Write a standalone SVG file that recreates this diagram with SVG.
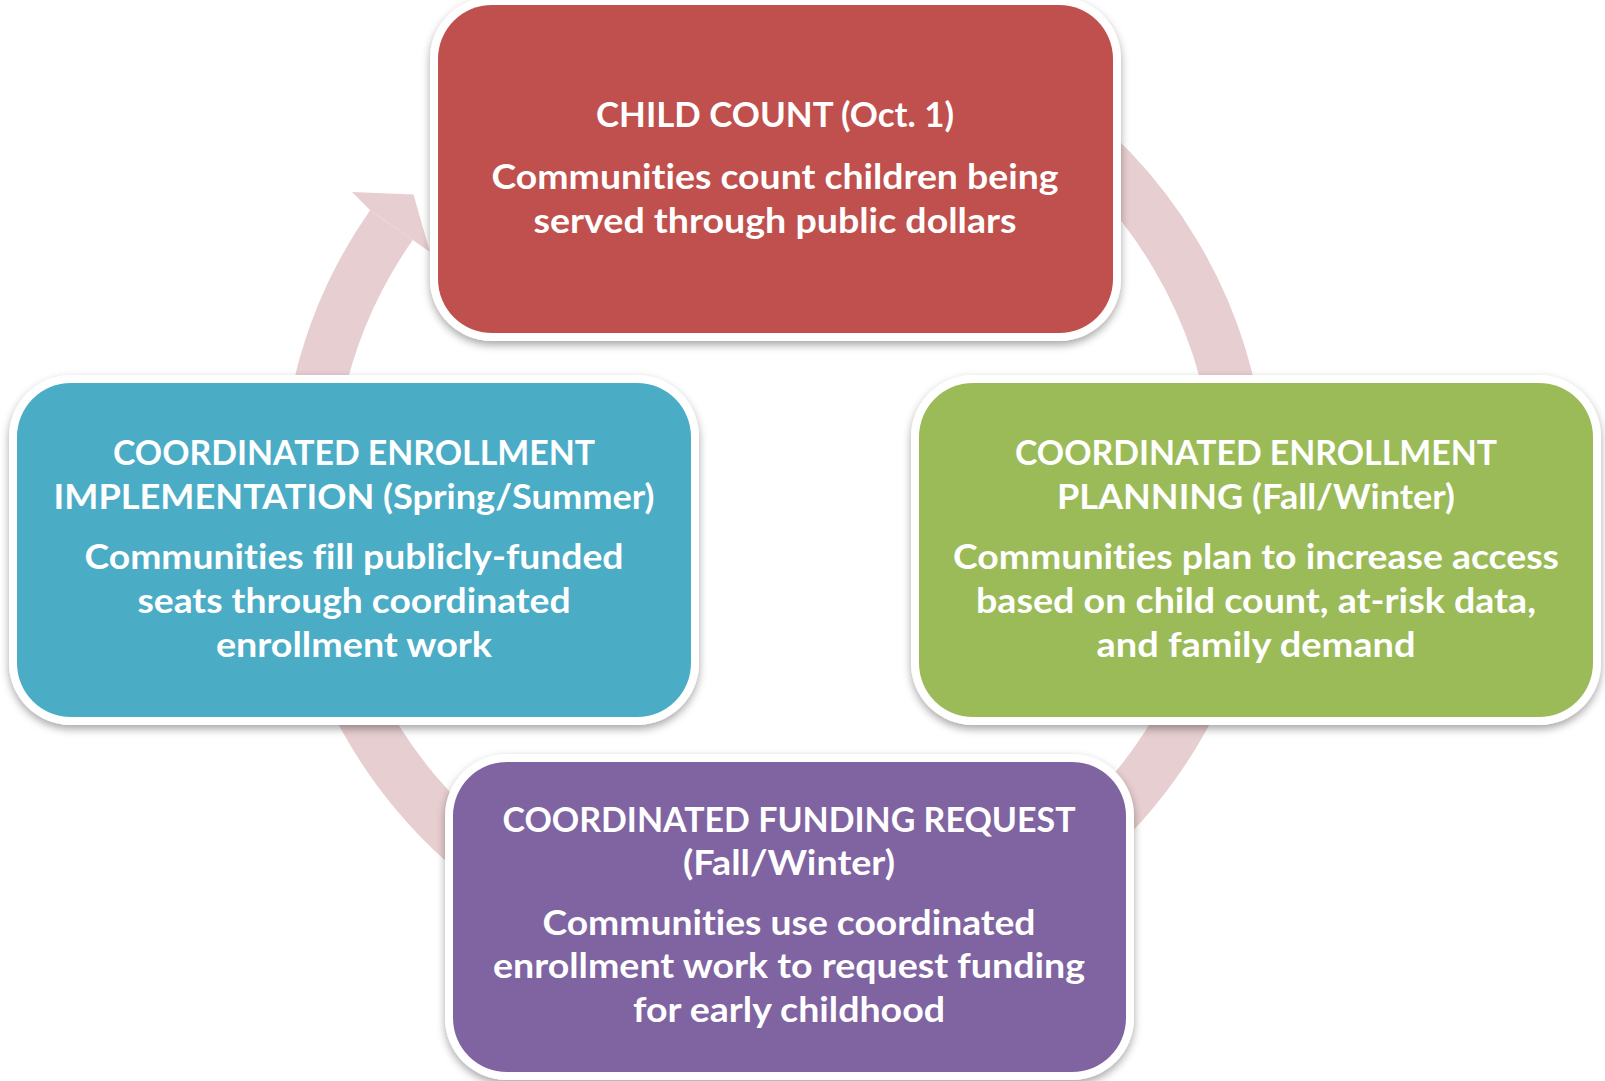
<svg xmlns="http://www.w3.org/2000/svg" width="1605" height="1081" viewBox="0 0 1605 1081">
  <defs>
    <filter id="shadow" x="-10%" y="-10%" width="120%" height="125%">
      <feDropShadow dx="0" dy="4" stdDeviation="4" flood-color="#000000" flood-opacity="0.35"/>
    </filter>
    <style>
      .border { fill: #FFFFFF; filter: url(#shadow); }
      .t { font-family: Lato, "Open Sans", "Liberation Sans", sans-serif; font-weight: 700; font-size: 34.5px; fill: #FFFFFF; text-anchor: middle; font-variant-ligatures: none; font-feature-settings: "liga" 0; }
      .ring { fill: none; stroke: #E7CED0; stroke-width: 52; }
      .head { fill: #E7CED0; }
    </style>
  </defs>
  <rect x="0" y="0" width="1605" height="1081" fill="#FFFFFF"/>

  <g id="connectors">
    <path class="ring" d="M 855.1 33.1 A 467 467 0 1 1 391.4 225.1"/>
    <polygon class="head" points="352,192 413.5,194.5 429.9,252.1 412.8,240 370.2,210.2"/>
  </g>

  <g id="node-child-count">
    <rect class="border" x="430" y="-3" width="691" height="344" rx="62"/>
    <rect x="438" y="5" width="675" height="328" rx="54" fill="#C0504D"/>
    <text class="t" x="775" y="127" textLength="358" lengthAdjust="spacingAndGlyphs">CHILD COUNT (Oct. 1)</text>
    <text class="t" x="775" y="189" textLength="567" lengthAdjust="spacingAndGlyphs">Communities count children being</text>
    <text class="t" x="775" y="233" textLength="483" lengthAdjust="spacingAndGlyphs">served through public dollars</text>
  </g>

  <g id="node-planning">
    <rect class="border" x="911" y="375" width="690" height="350" rx="62"/>
    <rect x="919" y="383" width="674" height="334" rx="54" fill="#9BBB59"/>
    <text class="t" x="1256" y="465" textLength="482" lengthAdjust="spacingAndGlyphs">COORDINATED ENROLLMENT</text>
    <text class="t" x="1256" y="509" textLength="398" lengthAdjust="spacingAndGlyphs">PLANNING (Fall/Winter)</text>
    <text class="t" x="1256" y="569" textLength="606" lengthAdjust="spacingAndGlyphs">Communities plan to increase access</text>
    <text class="t" x="1256" y="613" textLength="560" lengthAdjust="spacingAndGlyphs">based on child count, at-risk data,</text>
    <text class="t" x="1256" y="657" textLength="319" lengthAdjust="spacingAndGlyphs">and family demand</text>
  </g>

  <g id="node-funding">
    <rect class="border" x="445" y="754" width="689" height="326" rx="62"/>
    <rect x="453" y="762" width="673" height="310" rx="54" fill="#8064A2"/>
    <text class="t" x="789" y="832" textLength="573" lengthAdjust="spacingAndGlyphs">COORDINATED FUNDING REQUEST</text>
    <text class="t" x="789" y="875" textLength="212" lengthAdjust="spacingAndGlyphs">(Fall/Winter)</text>
    <text class="t" x="789" y="935" textLength="493" lengthAdjust="spacingAndGlyphs">Communities use coordinated</text>
    <text class="t" x="789" y="978" textLength="592" lengthAdjust="spacingAndGlyphs">enrollment work to request funding</text>
    <text class="t" x="789" y="1022" textLength="312" lengthAdjust="spacingAndGlyphs">for early childhood</text>
  </g>

  <g id="node-implementation">
    <rect class="border" x="9" y="375" width="690" height="350" rx="62"/>
    <rect x="17" y="383" width="674" height="334" rx="54" fill="#4BACC6"/>
    <text class="t" x="354" y="465" textLength="482" lengthAdjust="spacingAndGlyphs">COORDINATED ENROLLMENT</text>
    <text class="t" x="354" y="509" textLength="601" lengthAdjust="spacingAndGlyphs">IMPLEMENTATION (Spring/Summer)</text>
    <text class="t" x="354" y="569" textLength="539" lengthAdjust="spacingAndGlyphs">Communities fill publicly-funded</text>
    <text class="t" x="354" y="613" textLength="433" lengthAdjust="spacingAndGlyphs">seats through coordinated</text>
    <text class="t" x="354" y="657" textLength="276" lengthAdjust="spacingAndGlyphs">enrollment work</text>
  </g>
</svg>
